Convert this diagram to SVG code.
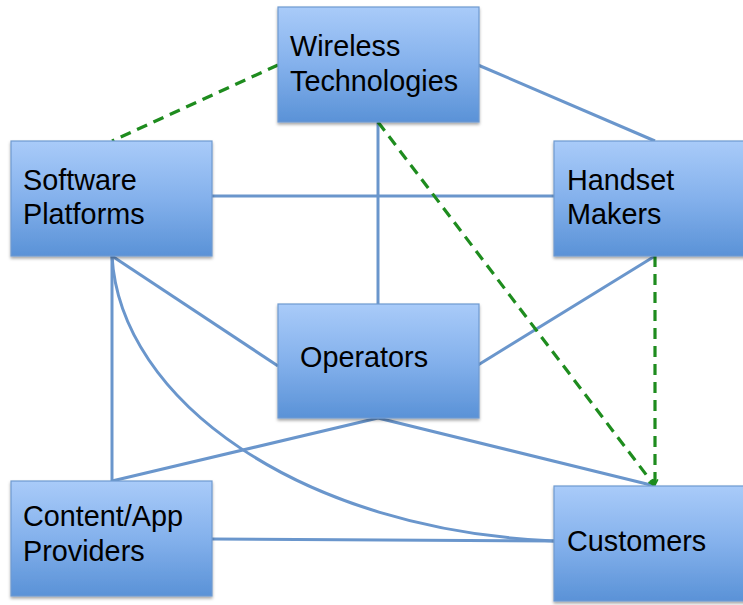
<svg xmlns="http://www.w3.org/2000/svg" width="743" height="605" viewBox="0 0 743 605">
<defs>
<linearGradient id="g" x1="0" y1="0" x2="0" y2="1">
<stop offset="0" stop-color="#a9cbf9"/>
<stop offset="0.5" stop-color="#84b1ec"/>
<stop offset="1" stop-color="#5a92d7"/>
</linearGradient>
<filter id="sh" x="-10%" y="-10%" width="120%" height="130%">
<feDropShadow dx="0" dy="2" stdDeviation="1.5" flood-color="#000" flood-opacity="0.35"/>
</filter>
<marker id="ah" viewBox="0 0 10 10" refX="9" refY="5" markerWidth="7" markerHeight="7" orient="auto" markerUnits="userSpaceOnUse">
<path d="M1,1 L9,5 L1,9" fill="none" stroke="#1e8c1e" stroke-width="2.4"/>
</marker>
<style>
.box{fill:url(#g);stroke:#6f9ad0;stroke-width:1.2;filter:url(#sh)}
.t{font-family:"Liberation Sans",Arial,sans-serif;font-size:28.8px;fill:#000}
.c{fill:none;stroke:#6a96cc;stroke-width:3}
.d{fill:none;stroke:#1e8c1e;stroke-width:3.2;stroke-dasharray:11,7}
</style>
</defs>
<g id="connectors">
<line class="c" x1="478" y1="65" x2="655" y2="141"/>
<line class="c" x1="378" y1="122" x2="378" y2="304"/>
<line class="c" x1="212" y1="196" x2="554" y2="196"/>
<line class="c" x1="112" y1="256" x2="278" y2="366"/>
<line class="c" x1="112" y1="256" x2="112" y2="481"/>
<path class="c" d="M112,256 C120,400 300,530 554,541"/>
<line class="c" x1="655" y1="256" x2="478" y2="365"/>
<line class="c" x1="378" y1="418" x2="112" y2="481"/>
<line class="c" x1="378" y1="418" x2="655" y2="486"/>
<line class="c" x1="212" y1="539" x2="554" y2="541"/>
<line class="d" x1="278" y1="65" x2="112" y2="141"/>
<line class="d" x1="378" y1="122" x2="654" y2="485" marker-end="url(#ah)"/>
<line class="d" x1="655" y1="256" x2="655" y2="485" marker-end="url(#ah)"/>
</g>
<g id="wireless">
<rect class="box" x="278" y="7" width="201" height="115"/>
<text class="t" x="290" y="56">Wireless</text>
<text class="t" x="290" y="91">Technologies</text>
</g>
<g id="software">
<rect class="box" x="11" y="141" width="201" height="115"/>
<text class="t" x="23" y="190">Software</text>
<text class="t" x="23" y="224">Platforms</text>
</g>
<g id="handset">
<rect class="box" x="554" y="141" width="201" height="115"/>
<text class="t" x="567" y="190">Handset</text>
<text class="t" x="567" y="224">Makers</text>
</g>
<g id="operators">
<rect class="box" x="278" y="304" width="201" height="114"/>
<text class="t" x="300" y="367">Operators</text>
</g>
<g id="content">
<rect class="box" x="11" y="481" width="201" height="115"/>
<text class="t" x="23" y="526">Content/App</text>
<text class="t" x="23" y="561">Providers</text>
</g>
<g id="customers">
<rect class="box" x="554" y="486" width="201" height="115"/>
<text class="t" x="567" y="551">Customers</text>
</g>
</svg>
